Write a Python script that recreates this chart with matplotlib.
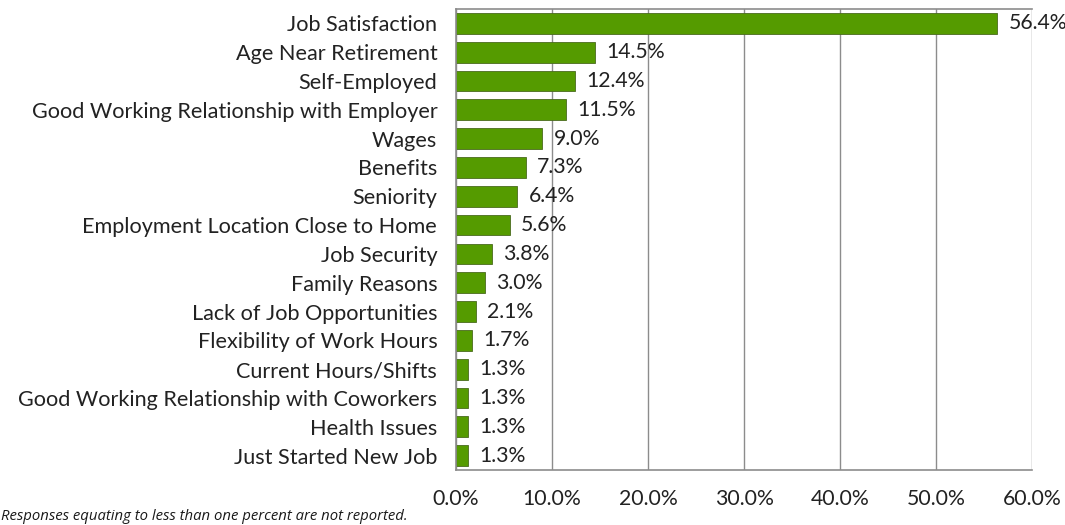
import matplotlib
matplotlib.use("Agg")
import matplotlib.pyplot as plt

categories = [
    "Job Satisfaction",
    "Age Near Retirement",
    "Self-Employed",
    "Good Working Relationship with Employer",
    "Wages",
    "Benefits",
    "Seniority",
    "Employment Location Close to Home",
    "Job Security",
    "Family Reasons",
    "Lack of Job Opportunities",
    "Flexibility of Work Hours",
    "Current Hours/Shifts",
    "Good Working Relationship with Coworkers",
    "Health Issues",
    "Just Started New Job",
]
values = [56.4, 14.5, 12.4, 11.5, 9.0, 7.3, 6.4, 5.6, 3.8, 3.0, 2.1, 1.7, 1.3, 1.3, 1.3, 1.3]
xticks = [0, 10, 20, 30, 40, 50, 60]
footnote = "Responses equating to less than one percent are not reported."

W, H = 1065, 525
fig = plt.figure(figsize=(W / 100, H / 100), dpi=100)
ax = fig.add_axes([456 / W, 1 - 470 / H, (1032 - 456) / W, (470 - 9) / H])

font = "Lato"
ypos = list(range(len(categories)))
ax.barh(ypos, values, height=0.72, color="#559B00", edgecolor="#4a6b1e",
        linewidth=0.6, zorder=2)
ax.set_ylim(len(categories) - 0.5, -0.5)
ax.set_xlim(0, 60)
ax.set_yticks(ypos)
ax.set_yticklabels(categories, fontsize=15.6, family=font, color="#222222")
ax.set_xticks(xticks)
ax.set_xticklabels([f"{t:.1f}%" for t in xticks], fontsize=15.3, family=font, color="#222222")
ax.tick_params(axis="y", length=0, pad=13.5)
ax.tick_params(axis="x", length=0, pad=14)
ax.grid(axis="x", color="#8c8c8c", linewidth=1.0, zorder=1)
ax.set_axisbelow(True)
for s in ["left", "bottom", "top"]:
    ax.spines[s].set_color("#8c8c8c")
    ax.spines[s].set_linewidth(1.2)
ax.spines["right"].set_visible(False)

for y, v in zip(ypos, values):
    ax.text(v + 1.15, y, f"{v:.1f}%", va="center", ha="left", fontsize=15.3,
            family=font, color="#222222", zorder=3)

fig.text(1 / W, 1 - 517 / H, footnote, fontsize=10.7, style="italic",
         family="Open Sans", color="#1a1a1a", va="center", ha="left")

fig.savefig("out.png", dpi=100)
